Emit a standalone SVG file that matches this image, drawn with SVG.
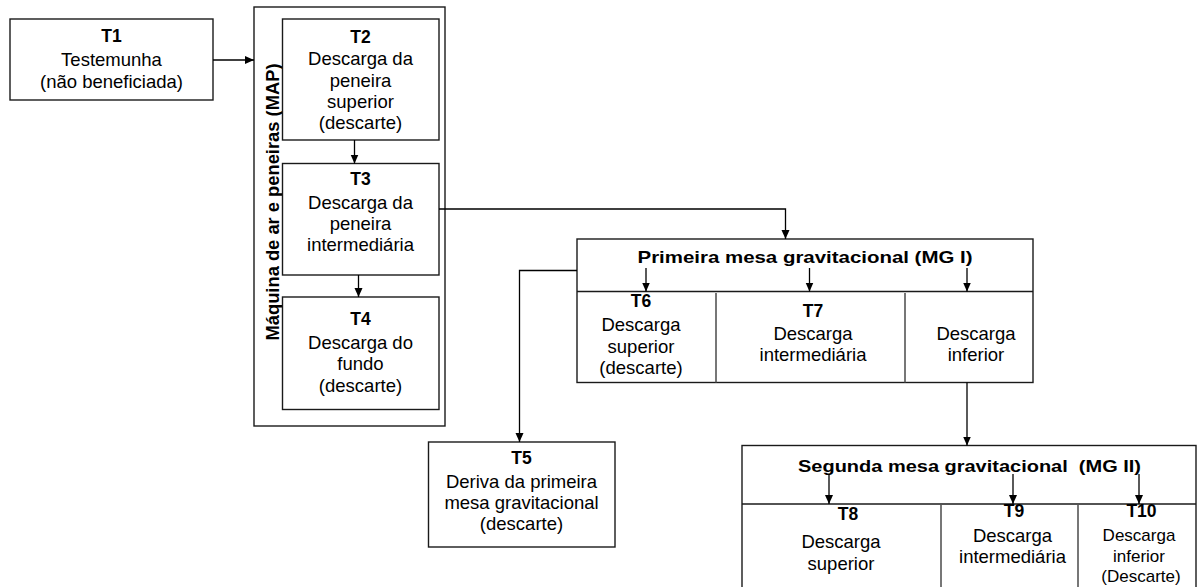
<svg xmlns="http://www.w3.org/2000/svg" width="1198" height="587" viewBox="0 0 1198 587">
<style>
  .box{fill:#fff;stroke:#1a1a1a;stroke-width:1.4}
  .div{fill:none;stroke:#555;stroke-width:1.6}
  .ln{fill:none;stroke:#000;stroke-width:1.3}
  text{font-family:"Liberation Sans",Arial,sans-serif;fill:#000;text-anchor:middle}
  .n{font-size:18.5px}
  .s{font-size:17px}
  .b{font-size:17.5px;font-weight:bold}
  .h{font-size:17px;font-weight:bold;white-space:pre}
</style>
<defs>
  <marker id="ah" markerUnits="userSpaceOnUse" markerWidth="10" markerHeight="9" refX="9" refY="4" orient="auto">
    <path d="M0,0 L9,4 L0,8 z" fill="#000"/>
  </marker>
</defs>
<rect width="1198" height="587" fill="#fff"/>

<g id="MAP">
  <rect class="box" x="254" y="7" width="191" height="419"/>
  <text class="b" font-size="18" transform="translate(278.5,202) rotate(-90)" textLength="277" lengthAdjust="spacingAndGlyphs">Máquina de ar e peneiras (MAP)</text>
</g>

<g id="T1">
  <rect class="box" x="10" y="19" width="203" height="81"/>
  <text class="b" x="111.5" y="42">T1</text>
  <text class="n" x="111.5" y="65.5">Testemunha</text>
  <text class="n" x="111.5" y="87.5">(não beneficiada)</text>
</g>

<g id="T2">
  <rect class="box" x="282.5" y="19" width="156.5" height="121"/>
  <text class="b" x="360.5" y="42.5">T2</text>
  <text class="n" x="360.5" y="65">Descarga da</text>
  <text class="n" x="360.5" y="86.5">peneira</text>
  <text class="n" x="360.5" y="107.5">superior</text>
  <text class="n" x="360.5" y="128.5">(descarte)</text>
</g>

<g id="T3">
  <rect class="box" x="282.5" y="163.5" width="156.5" height="111.5"/>
  <text class="b" x="360.5" y="185">T3</text>
  <text class="n" x="360.5" y="208.5">Descarga da</text>
  <text class="n" x="360.5" y="230">peneira</text>
  <text class="n" x="360.5" y="251">intermediária</text>
</g>

<g id="T4">
  <rect class="box" x="282.5" y="297" width="156.5" height="112.5"/>
  <text class="b" x="360.5" y="325">T4</text>
  <text class="n" x="360.5" y="348.5">Descarga do</text>
  <text class="n" x="360.5" y="370">fundo</text>
  <text class="n" x="360.5" y="391.5">(descarte)</text>
</g>

<g id="T5">
  <rect class="box" x="428.5" y="442" width="186.5" height="105"/>
  <text class="b" x="521.5" y="463.5">T5</text>
  <text class="n" x="521.5" y="487.5">Deriva da primeira</text>
  <text class="n" x="521.5" y="508.5">mesa gravitacional</text>
  <text class="n" x="521.5" y="529.5">(descarte)</text>
</g>

<g id="MG1">
  <rect class="box" x="577" y="239" width="456" height="143.5"/>
  <line class="box" x1="577" y1="291.5" x2="1033" y2="291.5"/>
  <line class="div" x1="716" y1="293" x2="716" y2="382.5"/>
  <line class="div" x1="905" y1="293" x2="905" y2="382.5"/>
  <text class="h" x="805" y="263" textLength="335" lengthAdjust="spacingAndGlyphs">Primeira mesa gravitacional (MG I)</text>
</g>

<g id="T6">
  <text class="b" x="641" y="307">T6</text>
  <text class="n" x="641" y="331">Descarga</text>
  <text class="n" x="641" y="352.5">superior</text>
  <text class="n" x="641" y="373.5">(descarte)</text>
</g>

<g id="T7">
  <text class="b" x="813" y="317">T7</text>
  <text class="n" x="813" y="340">Descarga</text>
  <text class="n" x="813" y="361">intermediária</text>
</g>

<g id="MG1_inferior">
  <text class="n" x="976" y="340">Descarga</text>
  <text class="n" x="976" y="360.5">inferior</text>
</g>

<g id="MG2">
  <rect class="box" x="742" y="445.5" width="454" height="160"/>
  <line class="box" x1="742" y1="504" x2="1196" y2="504"/>
  <line class="div" x1="941" y1="505" x2="941" y2="600"/>
  <line class="div" x1="1078" y1="505" x2="1078" y2="600"/>
  <text class="h" x="969.5" y="472" textLength="343" lengthAdjust="spacingAndGlyphs">Segunda mesa gravitacional  (MG II)</text>
</g>

<g id="T8">
  <text class="b" x="848" y="520">T8</text>
  <text class="n" x="841" y="548">Descarga</text>
  <text class="n" x="841" y="570">superior</text>
</g>

<g id="T9">
  <text class="b" x="1014" y="517">T9</text>
  <text class="n" x="1012.5" y="542">Descarga</text>
  <text class="n" x="1012.5" y="563">intermediária</text>
</g>

<g id="T10">
  <text class="b" x="1141.5" y="517">T10</text>
  <text class="s" x="1139" y="541">Descarga</text>
  <text class="s" x="1139" y="561.5">inferior</text>
  <text class="s" x="1141" y="582">(Descarte)</text>
</g>

<g id="connectors">
  <line class="ln" x1="213" y1="60" x2="254" y2="60" marker-end="url(#ah)"/>
  <line class="ln" x1="354.5" y1="140" x2="354.5" y2="163.5" marker-end="url(#ah)"/>
  <line class="ln" x1="358.5" y1="275" x2="358.5" y2="297" marker-end="url(#ah)"/>
  <path class="ln" d="M439,209 H785.5 V239" marker-end="url(#ah)"/>
  <path class="ln" d="M577,270.5 H519.5 V442" marker-end="url(#ah)"/>
  <line class="ln" x1="646" y1="268" x2="646" y2="291.5" marker-end="url(#ah)"/>
  <line class="ln" x1="809.5" y1="268" x2="809.5" y2="291.5" marker-end="url(#ah)"/>
  <line class="ln" x1="967" y1="268" x2="967" y2="291.5" marker-end="url(#ah)"/>
  <line class="ln" x1="967" y1="382.5" x2="967" y2="445.5" marker-end="url(#ah)"/>
  <line class="ln" x1="829" y1="474" x2="829" y2="504" marker-end="url(#ah)"/>
  <line class="ln" x1="1013" y1="474" x2="1013" y2="504" marker-end="url(#ah)"/>
  <line class="ln" x1="1139" y1="474" x2="1139" y2="504" marker-end="url(#ah)"/>
</g>
</svg>
